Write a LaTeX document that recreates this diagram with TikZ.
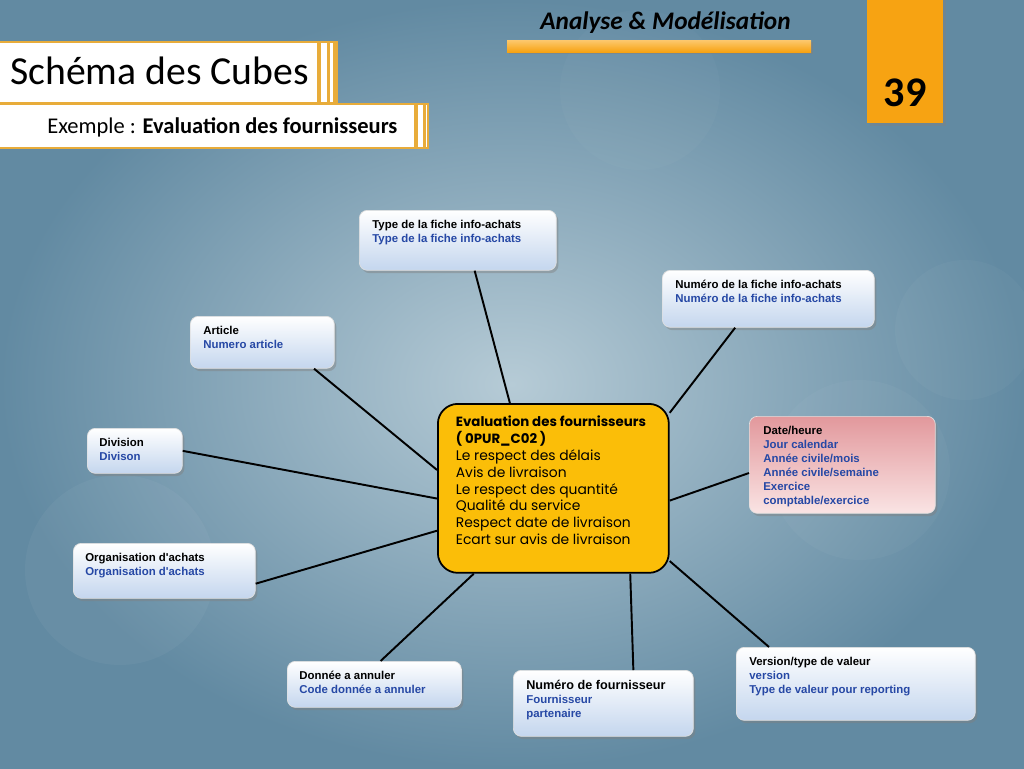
\documentclass[tikz,border=0pt]{standalone}
\usepackage{fontspec}
\setmainfont{Carlito}
\newfontfamily\boxfont{Liberation Sans}
\newfontfamily\gothfont{Poppins}
\usepackage{tikz}
\usetikzlibrary{shadows}
\definecolor{bglight}{RGB}{182,203,214}
\definecolor{bgdark}{RGB}{98,138,162}
\definecolor{tab}{RGB}{247,163,18}
\definecolor{tablight}{RGB}{252,200,110}
\definecolor{gold}{RGB}{251,190,8}
\definecolor{trim}{RGB}{232,172,58}
\definecolor{cubeblue}{RGB}{38,72,165}
\definecolor{boxlow}{RGB}{196,214,238}
\definecolor{pinkhi}{RGB}{226,152,156}
\definecolor{pinklo}{RGB}{250,228,228}

% text block of a dimension box: height, width, lines
\newcommand{\cubetext}[3]{\parbox[t][#1][t]{#2}{\raggedright #3}}

\tikzset{
	cube/.style={draw=white!75!gray, line width=.4pt, rounded corners=.16cm,
		top color=white, bottom color=boxlow, anchor=north west,
		drop shadow={opacity=.45, shadow xshift=1.2pt, shadow yshift=-1.6pt},
		inner xsep=.26cm, inner ysep=.2cm,
		font=\boxfont\bfseries\fontsize{6.5}{7.9}\selectfont},
	pinkcube/.style={cube, top color=pinkhi, bottom color=pinklo},
	hub/.style={draw=black, line width=1pt, fill=gold, rounded corners=.4cm,
		anchor=north west, inner xsep=.36cm, inner ysep=.24cm,
		font=\gothfont\fontsize{7.9}{9.6}\selectfont},
	link/.style={line width=1.1pt, black},
	trimbar/.style={trim, line width=2pt}
}

\begin{document}
\begin{tikzpicture}[x=0.02cm, y=-0.02cm]
	\useasboundingbox (0,0) rectangle (1024,768);
	\shade[inner color=bglight, outer color=bgdark] (0,0) rectangle (1024,768);
	\fill[white, opacity=.04] (120,570) circle [radius=1.9cm];	% light spots
	\fill[white, opacity=.03] (860,470) circle [radius=1.8cm];
	\fill[white, opacity=.03] (965,330) circle [radius=1.4cm];
	\fill[white, opacity=.025] (640,90) circle [radius=1.6cm];

	% header
	\node[anchor=base west, inner sep=0pt, font=\bfseries\itshape\fontsize{14.4}{16}\selectfont] (head) at (540,29) {Analyse \& Modélisation};
	\shade[top color=tablight, bottom color=tab, drop shadow={opacity=.5, shadow xshift=1pt, shadow yshift=-1.2pt}] (507,40) rectangle (811,52);
	\fill[tab, drop shadow={opacity=.4, shadow xshift=1.5pt, shadow yshift=-1.5pt}] (867,-5) rectangle (943,123);
	\node[anchor=base, inner sep=0pt, font=\bfseries\fontsize{24}{26}\selectfont] (page) at (905,106) {39};

	% title
	\draw[trim, line width=1.2pt, fill=white] (-5,42) rectangle (337,103);
	\draw[trimbar] (319,42) -- (319,103) (328.5,42) -- (328.5,103) (335,42) -- (335,103);
	\node[anchor=base west, inner sep=0pt, font=\fontsize{22.6}{24}\selectfont] (title) at (10,84) {Schéma des Cubes};
	\draw[trim, line width=1.2pt, fill=white] (-5,104) rectangle (428,148);
	\draw[trimbar] (416,104) -- (416,148) (424.5,104) -- (424.5,148);
	\node[anchor=base west, inner sep=0pt, font=\fontsize{12.8}{14}\selectfont] (subtitle) at (47,133) {Exemple : \textbf{Evaluation des fournisseurs}};

	% cube
	\node[hub] (c) at (437,403) {\parbox[t][2.9cm][t]{3.9cm}{{\fontsize{7.6}{9.6}\selectfont\textbf{Evaluation des fournisseurs}\\
		\textbf{( 0PUR\_C02 )}}\\
		Le respect des délais\\
		Avis de livraison\\
		Le respect des quantité\\
		Qualité du service\\
		Respect date de livraison\\
		Ecart sur avis de livraison}};

	% dimensions
	\node[cube] (tf) at (359,210) {\cubetext{.8cm}{3.42cm}{Type de la fiche info-achats\\ \textcolor{cubeblue}{Type de la fiche info-achats}}};
	\node[cube] (nf) at (662,270) {\cubetext{.74cm}{3.72cm}{Numéro de la fiche info-achats\\ \textcolor{cubeblue}{Numéro de la fiche info-achats}}};
	\node[cube] (ar) at (190,316) {\cubetext{.64cm}{2.36cm}{Article\\ \textcolor{cubeblue}{Numero article}}};
	\node[cube, inner xsep=.24cm] (dv) at (87,428) {\cubetext{.5cm}{1.42cm}{Division\\ \textcolor{cubeblue}{Divison}}};
	\node[cube, inner xsep=.24cm] (og) at (73,543) {\cubetext{.7cm}{3.16cm}{Organisation d'achats\\ \textcolor{cubeblue}{Organisation d'achats}}};
	\node[cube, inner xsep=.24cm] (dn) at (287,661) {\cubetext{.52cm}{3cm}{Donnée a annuler\\ \textcolor{cubeblue}{Code donnée a annuler}}};
	\node[cube] (nfo) at (513,670) {\cubetext{.92cm}{3.08cm}{{\fontsize{7.2}{8.6}\selectfont Numéro de fournisseur}\\
		\textcolor{cubeblue}{Fournisseur\\ partenaire}}};
	\node[cube] (vs) at (736,647) {\cubetext{1.06cm}{4.26cm}{Version/type de valeur\\
		\textcolor{cubeblue}{version\\ Type de valeur pour reporting}}};
	\node[pinkcube, inner xsep=.28cm] (dt) at (749,416) {\cubetext{1.54cm}{3.16cm}{Date/heure\\
		\textcolor{cubeblue}{Jour calendar\\ Année civile/mois\\ Année civile/semaine\\ Exercice\\ comptable/exercice}}};

	% links
	\draw[link] (tf.-61) -- (c.117);
	\draw[link] (nf.-139) -- (c.33);
	\draw[link] (ar.-27) -- (c.171);
	\draw[link] (dv.east) -- (c.185);
	\draw[link] (og.-8) -- (c.200);
	\draw[link] (dn.75) -- (c.227);
	\draw[link] (nfo.48) -- (c.-48);
	\draw[link] (vs.157) -- (c.-32);
	\draw[link] (dt.185) -- (c.-6);
\end{tikzpicture}
\end{document}
